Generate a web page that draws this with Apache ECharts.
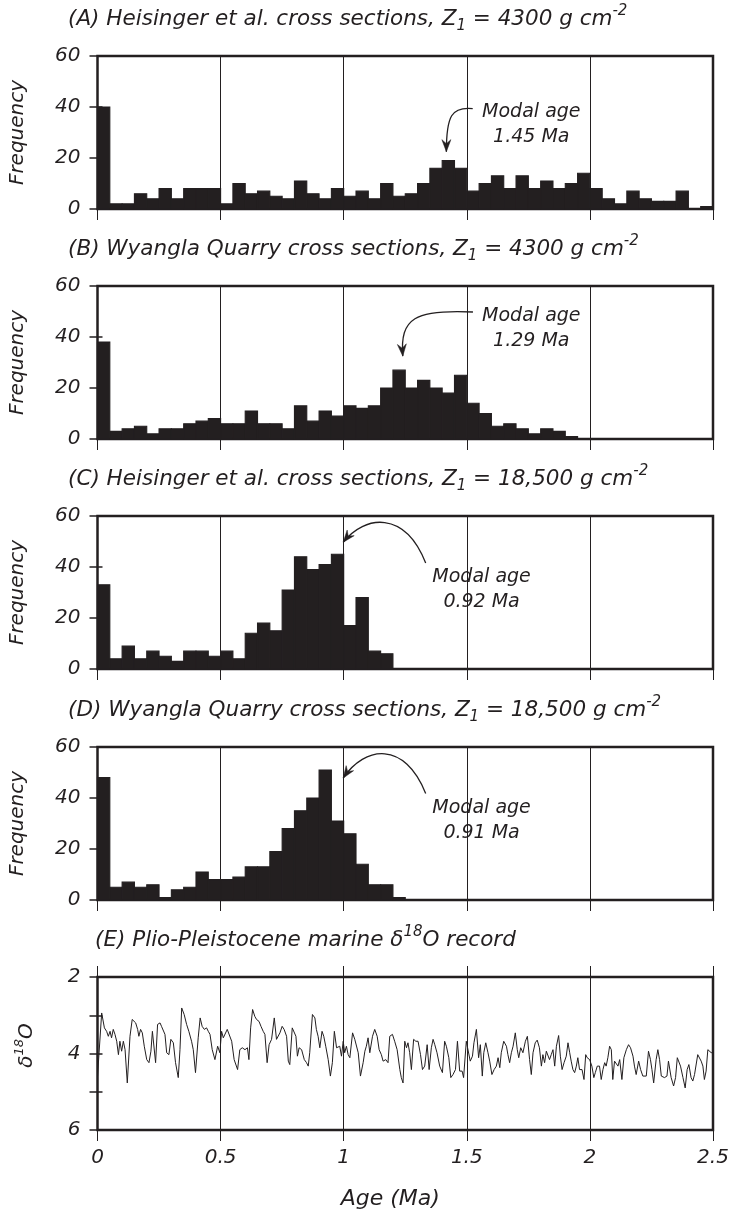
<!DOCTYPE html>
<html>
<head>
<meta charset="utf-8">
<script src="https://cdn.jsdelivr.net/npm/echarts@6/dist/echarts.min.js"></script>
<style>
html,body{margin:0;padding:0;background:#fff;}
#chart{width:729px;height:1221px;}
</style>
</head>
<body>
<div id="chart"></div>
<script>
// ---------------- DATA ----------------
const binWidth = 0.05; // Ma
const freqA = [40,2,2,6,4,8,4,8,8,8, 2,10,6,7,5,4,11,6,4,8, 5,7,4,10,5,6,10,16,19,16, 7,10,13,8,13,8,11,8,10,14, 8,4,2,7,4,3,3,7,0,1];
const freqB = [38,3,4,5,2,4,4,6,7,8, 6,6,11,6,6,4,13,7,11,9, 13,12,13,20,27,20,23,20,18,25, 14,10,5,6,4,2,4,3,1,0, 0,0,0,0,0,0,0,0,0,0];
const freqC = [33,4,9,4,7,5,3,7,7,5, 7,4,14,18,15,31,44,39,41,45, 17,28,7,6,0,0,0,0,0,0, 0,0,0,0,0,0,0,0,0,0, 0,0,0,0,0,0,0,0,0,0];
const freqD = [48,5,7,5,6,1,4,5,11,8, 8,9,13,13,19,28,35,40,51,31, 26,14,6,6,1,0,0,0,0,0, 0,0,0,0,0,0,0,0,0,0, 0,0,0,0,0,0,0,0,0,0];
const xTicks = [0, 0.5, 1, 1.5, 2, 2.5];
const freqTicks = [0, 20, 40, 60];
const d18oTicks = [2, 3, 4, 5, 6];
const panelTitles = [
  '(A) Heisinger et al. cross sections, Z{sub|1} = 4300 g cm{sup|-2}',
  '(B) Wyangla Quarry cross sections, Z{sub|1} = 4300 g cm{sup|-2}',
  '(C) Heisinger et al. cross sections, Z{sub|1} = 18,500 g cm{sup|-2}',
  '(D) Wyangla Quarry cross sections, Z{sub|1} = 18,500 g cm{sup|-2}',
  '(E) Plio-Pleistocene marine \u03b4{sup|18}O record'
];
const modalLabels = ['Modal age\n1.45 Ma', 'Modal age\n1.29 Ma', 'Modal age\n0.92 Ma', 'Modal age\n0.91 Ma'];
// [age (Ma), d18O (permil)]
const d18oRecord = [
[0.000,4.60],[0.017,2.94],[0.028,3.33],[0.037,3.42],[0.044,3.55],[0.051,3.42],[0.057,3.59],[0.064,3.37],[0.071,3.50],[0.078,3.68],
[0.085,4.03],[0.091,3.68],[0.098,3.94],[0.105,3.68],[0.112,3.90],[0.121,4.77],[0.132,3.55],[0.141,3.11],[0.149,3.07],[0.155,3.20],
[0.163,3.37],[0.168,3.55],[0.175,3.37],[0.182,3.46],[0.190,3.81],[0.200,4.16],[0.209,4.24],[0.217,3.94],[0.223,3.42],[0.229,3.46],
[0.236,4.24],[0.244,3.24],[0.254,3.20],[0.260,3.29],[0.267,3.29],[0.274,3.50],[0.281,3.98],[0.290,4.03],[0.298,3.63],[0.308,3.72],
[0.317,4.24],[0.328,4.63],[0.335,3.90],[0.342,2.81],[0.352,2.98],[0.362,3.24],[0.371,3.42],[0.382,3.68],[0.389,3.90],[0.398,4.50],
[0.409,3.59],[0.417,3.07],[0.425,3.29],[0.434,3.37],[0.443,3.33],[0.450,3.42],[0.457,3.50],[0.466,3.90],[0.477,4.16],[0.488,3.81],
[0.497,3.98],[0.504,3.42],[0.511,3.59],[0.517,3.59],[0.527,3.37],[0.535,3.42],[0.545,3.68],[0.555,4.16],[0.569,4.42],[0.578,3.90],
[0.588,3.85],[0.599,3.90],[0.609,3.85],[0.615,4.16],[0.622,3.33],[0.630,2.85],[0.639,3.03],[0.646,3.11],[0.656,3.16],[0.664,3.29],
[0.673,3.42],[0.680,3.50],[0.689,4.24],[0.697,3.77],[0.707,3.63],[0.718,3.07],[0.727,3.63],[0.734,3.63],[0.741,3.46],[0.750,3.29],
[0.758,3.37],[0.768,3.55],[0.775,4.20],[0.781,4.29],[0.791,3.33],[0.799,3.33],[0.806,3.55],[0.812,4.07],[0.819,3.85],[0.829,3.90],
[0.840,4.16],[0.849,4.24],[0.856,4.33],[0.862,3.98],[0.873,2.98],[0.883,3.07],[0.889,3.37],[0.896,3.55],[0.903,3.85],[0.912,3.42],
[0.919,3.55],[0.927,3.81],[0.937,4.16],[0.946,4.59],[0.954,4.24],[0.962,3.42],[0.971,3.85],[0.977,3.90],[0.984,3.81],[0.991,4.07],
[0.998,3.68],[1.004,3.98],[1.011,3.81],[1.018,4.03],[1.025,4.11],[1.036,3.46],[1.045,3.63],[1.052,3.63],[1.059,3.98],[1.068,4.59],
[1.079,4.24],[1.086,3.94],[1.092,3.81],[1.099,3.59],[1.106,3.98],[1.117,3.55],[1.126,3.37],[1.136,3.55],[1.144,3.90],[1.153,4.03],
[1.160,4.20],[1.171,4.16],[1.180,4.24],[1.187,3.55],[1.198,3.50],[1.207,3.68],[1.217,3.90],[1.228,4.42],[1.234,4.63],[1.241,4.77],
[1.248,3.68],[1.255,3.85],[1.261,3.72],[1.268,3.98],[1.275,4.42],[1.284,3.63],[1.293,3.68],[1.302,3.68],[1.312,4.03],[1.320,4.42],
[1.329,4.33],[1.339,3.77],[1.347,4.42],[1.356,3.85],[1.363,3.63],[1.370,3.77],[1.379,3.98],[1.390,4.33],[1.401,4.50],[1.410,3.68],
[1.417,3.81],[1.427,4.11],[1.435,4.63],[1.444,4.55],[1.454,4.42],[1.462,3.68],[1.471,4.46],[1.481,4.46],[1.487,4.63],[1.498,3.68],
[1.505,3.72],[1.514,4.20],[1.523,4.07],[1.529,3.72],[1.539,3.37],[1.548,4.11],[1.555,3.77],[1.563,4.59],[1.569,3.98],[1.577,3.72],
[1.586,3.98],[1.593,4.20],[1.602,4.55],[1.611,4.42],[1.620,4.33],[1.627,4.11],[1.634,4.37],[1.640,3.98],[1.650,3.68],[1.661,3.81],
[1.667,4.03],[1.674,4.24],[1.681,3.98],[1.688,3.81],[1.697,3.46],[1.705,3.90],[1.711,4.11],[1.719,3.85],[1.728,3.98],[1.738,3.68],
[1.746,3.55],[1.755,4.16],[1.762,4.55],[1.769,3.98],[1.778,3.72],[1.786,3.65],[1.795,3.85],[1.803,4.33],[1.809,4.03],[1.816,4.24],
[1.823,3.94],[1.830,3.90],[1.836,4.16],[1.843,4.03],[1.850,3.90],[1.857,4.33],[1.864,3.81],[1.873,3.53],[1.880,4.07],[1.887,4.42],
[1.895,4.24],[1.904,4.07],[1.911,3.72],[1.918,3.98],[1.924,4.20],[1.931,4.42],[1.938,4.50],[1.945,4.33],[1.951,4.11],[1.958,4.42],
[1.968,4.42],[1.976,4.68],[1.983,4.03],[1.989,4.11],[1.999,4.16],[2.008,4.33],[2.016,4.63],[2.022,4.50],[2.030,4.33],[2.039,4.33],
[2.046,4.68],[2.053,4.42],[2.060,4.24],[2.066,4.33],[2.073,4.11],[2.080,3.81],[2.087,3.90],[2.093,4.68],[2.100,4.20],[2.107,4.16],
[2.114,4.33],[2.121,4.16],[2.130,4.68],[2.138,4.11],[2.148,3.90],[2.157,3.77],[2.165,3.85],[2.175,4.07],[2.181,4.33],[2.188,4.55],
[2.198,4.20],[2.206,4.42],[2.215,4.59],[2.222,4.55],[2.229,4.59],[2.238,3.94],[2.246,4.16],[2.252,4.42],[2.259,4.77],[2.269,4.16],
[2.276,3.90],[2.283,4.16],[2.290,4.59],[2.296,4.59],[2.303,4.63],[2.313,4.59],[2.319,4.20],[2.330,4.63],[2.340,4.85],[2.348,4.63],
[2.355,4.11],[2.360,4.09],[2.368,4.33],[2.378,4.63],[2.387,4.90],[2.395,4.42],[2.402,4.29],[2.411,4.63],[2.418,4.72],[2.425,4.55],
[2.432,4.59],[2.438,4.03],[2.445,4.03],[2.452,4.20],[2.459,4.33],[2.465,4.68],[2.472,4.46],[2.479,3.90],[2.486,3.85],[2.493,3.98],
[2.500,3.95]
];

// ---------------- STYLE / LAYOUT ----------------
const INK = '#231f20';
const FONT = '"DejaVu Sans", sans-serif';
const panelTops = [56, 286, 516, 747, 977];
const panelH = 153;
const gridLeft = 97.5, gridRight = 16;
const txt = (size) => ({fontFamily: FONT, fontStyle: 'italic', fontSize: size, color: INK});

// annotation geometry in data coordinates of each panel
const annotations = [
  {label: [1.762, 33.1], curve: [[1.524, 39.4], [1.439, 40.2], [1.417, 36.7], [1.417, 22.5]]},
  {label: [1.762, 43.4], curve: [[1.525, 49.8], [1.289, 50.9], [1.228, 47.4], [1.240, 32.5]]},
  {label: [1.560, 31.2], curve: [[1.333, 41.6], [1.248, 62.3], [1.086, 60.4], [0.998, 49.7]]},
  {label: [1.560, 31.3], curve: [[1.333, 41.8], [1.248, 62.5], [1.086, 60.5], [0.998, 47.8]]}
];

const freqSets = [freqA, freqB, freqC, freqD];

const chart = echarts.init(document.getElementById('chart'), null, {renderer: 'canvas'});

const grids = panelTops.map(t => ({
  left: gridLeft, right: gridRight, top: t, height: panelH,
  outerBoundsMode: 'none', containLabel: false,
  show: true, borderWidth: 2.5, borderColor: INK, backgroundColor: 'transparent'
}));

const xAxes = [];
const yAxes = [];
panelTops.forEach((t, i) => {
  const last = i === 4;
  xAxes.push({
    type: 'value', gridIndex: i, min: xTicks[0], max: xTicks[xTicks.length - 1], interval: xTicks[1] - xTicks[0],
    position: 'bottom',
    axisLine: {show: false},
    axisTick: {show: true, inside: false, length: 11, lineStyle: {color: INK, width: 1}},
    axisLabel: {show: last, ...txt(20), margin: 18},
    splitLine: {show: true, lineStyle: {color: INK, width: 1}},
    name: last ? 'Age (Ma)' : '', nameLocation: 'middle', nameGap: 58,
    nameTextStyle: {...txt(22), padding: [0, 30, 0, 0]}
  });
  xAxes.push({
    type: 'value', gridIndex: i, min: xTicks[0], max: xTicks[xTicks.length - 1], interval: xTicks[1] - xTicks[0],
    position: 'top',
    axisLine: {show: false},
    axisTick: {show: true, inside: false, length: 11, lineStyle: {color: INK, width: 1}},
    axisLabel: {show: false}, splitLine: {show: false}
  });
  if (!last) {
    yAxes.push({
      type: 'value', gridIndex: i, min: freqTicks[0], max: freqTicks[freqTicks.length - 1], interval: freqTicks[1] - freqTicks[0],
      position: 'left',
      axisLine: {show: false},
      axisTick: {show: true, inside: false, length: 8, lineStyle: {color: INK, width: 1.5}},
      axisLabel: {...txt(20), margin: 17},
      splitLine: {show: false},
      name: 'Frequency', nameLocation: 'middle', nameRotate: 90, nameGap: 70,
      nameTextStyle: txt(20)
    });
    yAxes.push({
      type: 'value', gridIndex: i, min: freqTicks[0], max: freqTicks[freqTicks.length - 1], interval: freqTicks[1] - freqTicks[0],
      position: 'right',
      axisLine: {show: false},
      axisTick: {show: true, inside: false, length: 5, lineStyle: {color: INK, width: 1.5}},
      axisLabel: {show: false}, splitLine: {show: false}
    });
  } else {
    yAxes.push({
      type: 'value', gridIndex: i, min: d18oTicks[0], max: d18oTicks[d18oTicks.length - 1], interval: d18oTicks[1] - d18oTicks[0],
      inverse: true, position: 'left',
      axisLine: {show: false},
      axisTick: {show: true, inside: false, length: 8, lineStyle: {color: INK, width: 1.5}},
      axisLabel: {...txt(20), margin: 17, formatter: v => (v % 2 === 0 ? String(v) : '')},
      splitLine: {show: false},
      name: '{a|\u03b4}{s|18}{a|O}', nameLocation: 'middle', nameRotate: 90, nameGap: 58,
      nameTextStyle: {...txt(20), padding: [0, 0, 0, 16], rich: {a: {...txt(20)}, s: {...txt(13), verticalAlign: 'top', lineHeight: 26}}}
    });
    yAxes.push({
      type: 'value', gridIndex: i, min: d18oTicks[0], max: d18oTicks[d18oTicks.length - 1], interval: d18oTicks[1] - d18oTicks[0],
      inverse: true, position: 'right',
      axisLine: {show: false},
      axisTick: {show: true, inside: false, length: 5, lineStyle: {color: INK, width: 1.5}},
      axisLabel: {show: false}, splitLine: {show: false}
    });
  }
});

const titles = panelTitles.map((t, i) => ({
  text: t, left: i === 4 ? 95 : 68, top: panelTops[i] - 52, padding: 0,
  textStyle: {
    ...txt(21.5), fontWeight: 'normal', lineHeight: 30,
    rich: {
      sub: {...txt(15), verticalAlign: 'bottom', lineHeight: 14},
      sup: {...txt(15), verticalAlign: 'top', lineHeight: 14}
    }
  }
}));

const histSeries = freqSets.map((arr, i) => ({
  type: 'custom', xAxisIndex: 2 * i, yAxisIndex: 2 * i, silent: true,
  encode: {x: [0, 1], y: 2},
  data: arr.map((v, k) => [k * binWidth, (k + 1) * binWidth, v]),
  renderItem: function (params, api) {
    const v = api.value(2);
    if (!v) return null;
    const a = api.coord([api.value(0), v]);
    const b = api.coord([api.value(1), 0]);
    return {type: 'rect', shape: {x: a[0], y: a[1], width: b[0] - a[0], height: b[1] - a[1]},
      style: {fill: INK, stroke: INK, lineWidth: 1.1}};
  }
}));

const lineSeries = {
  type: 'line', xAxisIndex: 8, yAxisIndex: 8, data: d18oRecord,
  showSymbol: false, symbol: 'none', silent: true,
  lineStyle: {color: INK, width: 1}
};

chart.setOption({
  animation: false,
  backgroundColor: '#fff',
  title: titles,
  grid: grids,
  xAxis: xAxes,
  yAxis: yAxes,
  series: [...histSeries, lineSeries]
});

// annotations placed through the axes' own coordinate conversion
const graphics = [];
annotations.forEach((an, i) => {
  const finder = {xAxisIndex: 2 * i, yAxisIndex: 2 * i};
  const P = an.curve.map(p => chart.convertToPixel(finder, p));
  const L = chart.convertToPixel(finder, an.label);
  graphics.push({
    type: 'bezierCurve', silent: true,
    shape: {x1: P[0][0], y1: P[0][1], cpx1: P[1][0], cpy1: P[1][1], cpx2: P[2][0], cpy2: P[2][1], x2: P[3][0], y2: P[3][1]},
    style: {stroke: INK, lineWidth: 1.3, fill: null}
  });
  const dx = P[3][0] - P[2][0], dy = P[3][1] - P[2][1];
  const len = Math.hypot(dx, dy) || 1;
  const ux = dx / len, uy = dy / len, nx = -uy, ny = ux;
  const tip = P[3];
  const back = 12, half = 4.5, notch = 8;
  graphics.push({
    type: 'polygon', silent: true,
    shape: {points: [
      [tip[0], tip[1]],
      [tip[0] - ux * back + nx * half, tip[1] - uy * back + ny * half],
      [tip[0] - ux * notch, tip[1] - uy * notch],
      [tip[0] - ux * back - nx * half, tip[1] - uy * back - ny * half]
    ]},
    style: {fill: INK, stroke: INK, lineWidth: 0.5}
  });
  graphics.push({
    type: 'text', silent: true,
    style: {text: modalLabels[i], x: L[0], y: L[1], align: 'center', verticalAlign: 'middle',
      textAlign: 'center', textVerticalAlign: 'middle',
      font: 'italic 19px "DejaVu Sans", sans-serif', fill: INK, lineHeight: 25}
  });
});
chart.setOption({graphic: graphics});
</script>
</body>
</html>
